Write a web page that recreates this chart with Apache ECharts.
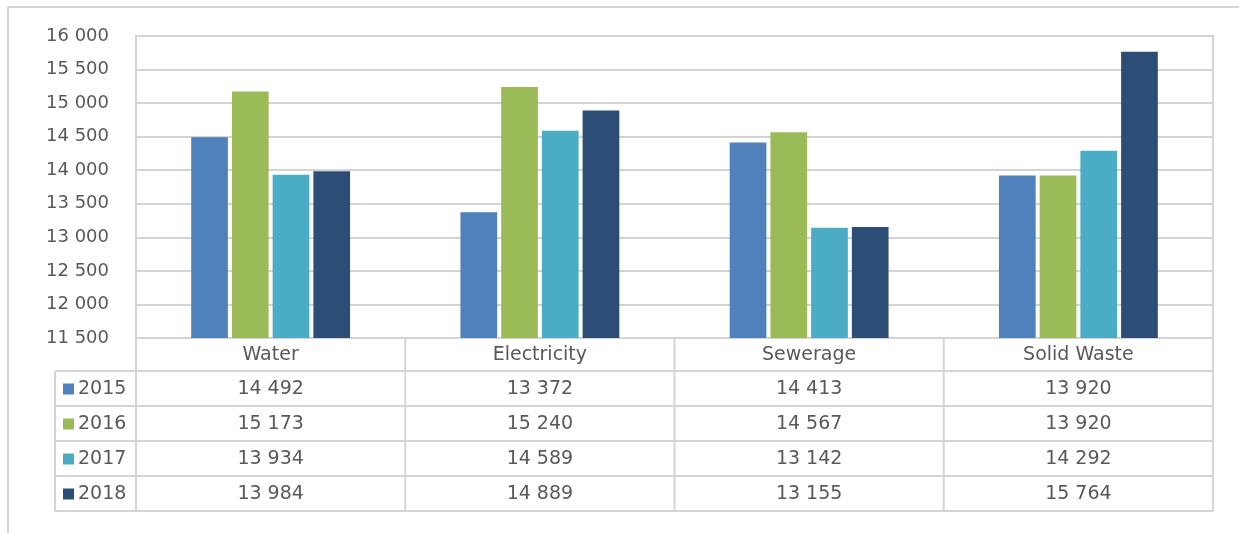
<!DOCTYPE html>
<html>
<head>
<meta charset="utf-8">
<script src="https://cdn.jsdelivr.net/npm/echarts@6/dist/echarts.min.js"></script>
<style>
  html, body { margin: 0; padding: 0; background: #fff; }
  #chart { width: 1239px; height: 533px; }
</style>
</head>
<body>
<div id="chart"></div>
<script>
const categories = ['Water', 'Electricity', 'Sewerage', 'Solid Waste'];
const years = ['2015', '2016', '2017', '2018'];
const values2015 = [14492, 13372, 14413, 13920];
const values2016 = [15173, 15240, 14567, 13920];
const values2017 = [13934, 14589, 13142, 14292];
const values2018 = [13984, 14889, 13155, 15764];
const colors = ['#4F81BD', '#9BBB59', '#4BACC6', '#2C4D75'];

const seriesValues = [values2015, values2016, values2017, values2018];

const fmt = v => String(v).replace(/\B(?=(\d{3})+(?!\d))/g, ' ');

const FONT = 'DejaVu Sans';
const TEXT = '#595959';
const LINE = '#d4d4d4';

const gridLeft = 136, gridRight = 1213, gridTop = 36, gridBottom = 338;
const rowEdges = [338, 371, 406, 441, 476, 511];
const legendLeft = 55;

const chart = echarts.init(document.getElementById('chart'));

// data table under the plot, built from the arrays
function buildTable() {
  const g = [];
  const catW = (gridRight - gridLeft) / categories.length;
  const line = (x1, y1, x2, y2) => g.push({
    type: 'line', silent: true,
    shape: { x1, y1, x2, y2 },
    style: { stroke: LINE, lineWidth: 2 }
  });
  const text = (x, y, s, align) => g.push({
    type: 'text', silent: true, x, y,
    style: { text: s, fill: TEXT, font: '19px "' + FONT + '"', align: align || 'center', verticalAlign: 'middle' }
  });
  // outer frame
  line(8, 7, 1239, 7);
  line(8, 7, 8, 533);
  // horizontal lines
  line(gridLeft, rowEdges[0], gridRight, rowEdges[0]);
  for (let i = 1; i < rowEdges.length; i++) line(legendLeft, rowEdges[i], gridRight, rowEdges[i]);
  // vertical lines
  for (let c = 0; c <= categories.length; c++) {
    const x = gridLeft + c * catW;
    line(x, rowEdges[0], x, rowEdges[rowEdges.length - 1]);
  }
  line(legendLeft, rowEdges[1], legendLeft, rowEdges[rowEdges.length - 1]);
  // header
  categories.forEach((c, i) => text(gridLeft + (i + 0.5) * catW, (rowEdges[0] + rowEdges[1]) / 2 + 1, c));
  // rows with legend keys
  years.forEach((y, r) => {
    const cy = (rowEdges[r + 1] + rowEdges[r + 2]) / 2;
    g.push({ type: 'rect', silent: true, shape: { x: 63, y: cy - 5, width: 11, height: 11 }, style: { fill: colors[r] } });
    text(78, cy + 1, y, 'left');
    seriesValues[r].forEach((v, i) => text(gridLeft + (i + 0.5) * catW, cy + 1, fmt(v)));
  });
  return g;
}

const option = {
  animation: false,
  grid: {
    left: gridLeft, right: 1239 - gridRight, top: gridTop, bottom: 533 - gridBottom,
    show: true, borderColor: LINE, borderWidth: 2
  },
  xAxis: {
    type: 'category',
    data: categories,
    axisLine: { show: false },
    axisTick: { show: false },
    axisLabel: { show: false }
  },
  yAxis: {
    type: 'value',
    min: 11500, max: 16000, interval: 500,
    axisLine: { show: false },
    axisTick: { show: false },
    axisLabel: { color: TEXT, fontFamily: FONT, fontSize: 18, margin: 27, formatter: fmt },
    splitLine: { lineStyle: { color: LINE, width: 2 } }
  },
  series: years.map((y, i) => ({
    name: y,
    type: 'bar',
    data: seriesValues[i],
    barGap: '11%',
    barCategoryGap: '41%',
    itemStyle: { color: colors[i] }
  })),
  graphic: buildTable()
};

chart.setOption(option);
</script>
</body>
</html>
